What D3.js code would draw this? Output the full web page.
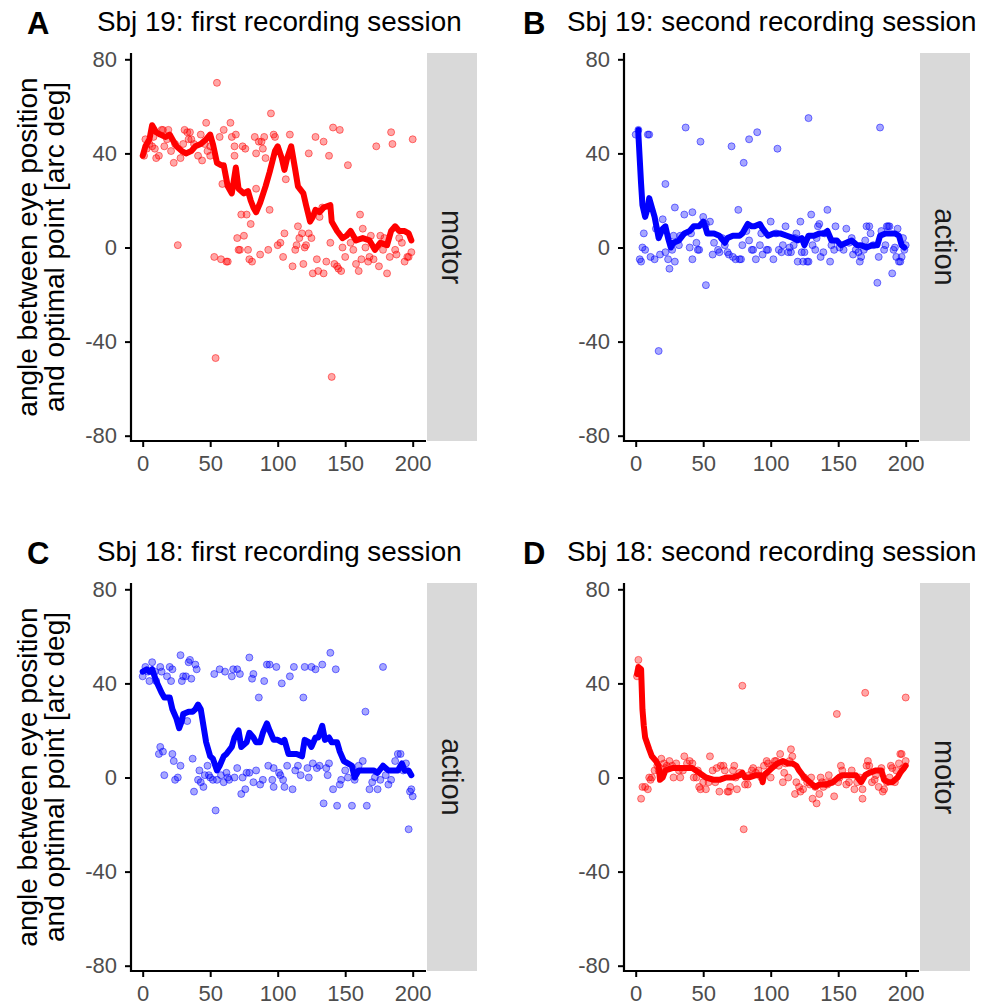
<!DOCTYPE html>
<html>
<head>
<meta charset="utf-8">
<script src="https://cdn.jsdelivr.net/npm/d3@7"></script>
<style>
  body { margin: 0; background: #fff; }
  svg { display: block; }
</style>
</head>
<body>
<div id="grafica"></div>
<script>
// datos
letters = ['A', 'B', 'C', 'D']
titles = ['Sbj 19: first recording session', 'Sbj 19: second recording session',
          'Sbj 18: first recording session', 'Sbj 18: second recording session']
strips = ['motor', 'action', 'action', 'motor']
colors = ['#ff0000', '#0000ff', '#0000ff', '#ff0000']
yTicks = [-80, -40, 0, 40, 80]
xTicks = [0, 50, 100, 150, 200]
yTitle = ['angle between eye position', 'and optimal point [arc deg]']

pointsA = [[1,39],[2,46],[3,42],[5,44],[7,43],[8,47],[9,42],[10,38],[12,39],[14,50],[15,50],[16,43],[18,46],[19,50],[21,41],[23,36],[24,44],[26,1],[28,38],[30,44],[31,50],[33,49],[34,46],[35,49],[36,46],[38,44],[41,39],[43,48],[44,37],[46,44],[47,53],[48,41],[50,43],[50,39],[53,-4],[54,-47],[55,70],[57,47],[58,-5],[59,27],[60,50],[62,-6],[63,-6],[65,53],[66,47],[68,43],[68,39],[69,48],[70,4],[71,-1],[72,-1],[73,14],[74,43],[75,5],[76,42],[77,14],[78,-1],[79,-5],[80,10],[81,-6],[83,47],[84,25],[84,40],[86,45],[87,-3],[88,45],[89,42],[90,47],[91,38],[93,-1],[94,16],[95,57],[97,48],[98,47],[100,1],[102,2],[104,-4],[105,6],[106,29],[109,48],[111,-8],[113,-1],[114,1],[115,9],[116,4],[118,6],[119,-7],[120,0],[121,1],[123,6],[123,40],[125,4],[126,-11],[128,47],[129,-5],[130,-10],[131,13],[133,17],[134,45],[134,-11],[136,-6],[138,39],[139,2],[140,-55],[141,51],[142,-7],[144,-8],[145,-9],[146,50],[147,-10],[148,0],[150,-4],[152,35],[154,2],[156,-1],[158,-7],[160,-10],[161,14],[162,-5],[163,8],[165,0],[167,-6],[168,-4],[169,5],[171,-5],[173,43],[175,-8],[176,5],[178,-1],[179,4],[181,-11],[183,-4],[184,49],[185,44],[187,-1],[188,-3],[190,4],[192,2],[194,-6],[196,-4],[197,-4],[199,-2],[200,46]]
lineA = [[0,39],[2,43],[5,46],[7,52],[10,49],[13,48],[17,47],[20,48],[23,45],[25,43],[29,41],[32,40],[36,41],[39,43],[43,44],[47,46],[50,48],[52,44],[55,36],[58,35],[60,35],[63,26],[66,23],[69,34],[71,25],[75,23],[78,24],[80,20],[82,17],[84,15],[87,19],[91,26],[94,32],[98,41],[100,43],[103,38],[105,33],[107,38],[110,43],[113,33],[115,26],[119,23],[121,18],[124,11],[126,13],[128,16],[131,15],[134,17],[139,18],[140,11],[144,7],[148,4],[151,5],[154,7],[158,3],[163,4],[168,3],[172,-1],[176,2],[181,1],[184,7],[187,9],[190,7],[194,7],[197,6],[199,3]]

pointsB = [[0,48],[2,50],[3,-5],[4,-6],[5,0],[6,6],[7,-1],[9,48],[10,48],[11,-4],[14,-5],[15,8],[17,-44],[18,-3],[20,12],[22,27],[22,-2],[24,-5],[25,-9],[27,-1],[28,5],[29,-6],[29,17],[32,1],[33,5],[36,14],[37,51],[40,0],[41,6],[42,15],[42,-5],[45,2],[46,-1],[47,-1],[48,45],[50,13],[52,-16],[52,10],[55,11],[57,-3],[58,2],[61,-1],[62,-2],[64,4],[66,1],[68,-2],[69,-3],[71,43],[72,-4],[74,-5],[76,16],[77,-5],[78,-5],[79,1],[80,36],[82,7],[84,46],[84,3],[86,-1],[87,-1],[89,-5],[90,49],[92,1],[93,6],[94,-3],[97,-1],[98,-1],[100,11],[102,-5],[104,6],[105,42],[106,-1],[108,-2],[109,1],[111,9],[113,-2],[114,0],[115,-2],[117,1],[118,4],[119,6],[120,-6],[122,11],[123,-2],[124,-6],[125,-2],[127,-6],[128,55],[128,-6],[130,14],[131,1],[133,-1],[134,4],[135,9],[136,10],[137,-4],[139,-2],[140,6],[142,16],[144,-6],[145,1],[147,-1],[148,9],[151,0],[154,-1],[156,8],[158,2],[160,4],[161,-3],[163,-1],[165,-2],[166,-6],[167,-4],[169,-1],[170,3],[171,9],[173,9],[174,6],[176,1],[179,-15],[180,-4],[181,51],[182,7],[184,-1],[185,1],[186,9],[187,9],[188,9],[190,-11],[191,-1],[192,0],[193,-4],[194,8],[195,-6],[196,-6],[197,-4],[198,4],[199,-1],[200,1]]
lineB = [[2,50],[2,48],[4,27],[5,18],[7,13],[9,17],[10,21],[11,19],[12,17],[14,13],[16,7],[17,4],[20,8],[22,9],[24,4],[26,0],[28,2],[32,3],[36,6],[40,7],[43,9],[47,9],[50,11],[52,8],[53,6],[58,6],[62,5],[66,2],[68,4],[72,5],[77,5],[79,6],[83,10],[86,9],[88,9],[92,10],[94,8],[98,5],[102,6],[107,6],[112,5],[117,4],[120,3],[123,4],[125,1],[128,5],[132,5],[136,6],[140,6],[142,7],[145,3],[149,3],[152,1],[156,2],[160,3],[164,1],[167,1],[171,0],[175,1],[179,1],[181,5],[185,6],[188,6],[192,6],[195,5],[197,1],[199,0]]

pointsC = [[0,43],[2,47],[4,45],[5,41],[7,49],[9,45],[10,41],[12,10],[13,47],[13,13],[14,45],[15,11],[16,1],[18,43],[20,47],[21,41],[22,46],[22,10],[23,7],[24,-1],[26,0],[28,5],[28,52],[29,41],[30,43],[32,43],[33,24],[34,49],[35,50],[36,42],[37,8],[38,-6],[39,48],[40,46],[41,-1],[42,3],[43,-2],[45,-4],[46,1],[48,5],[49,1],[50,0],[52,-1],[53,44],[54,-14],[55,-1],[57,46],[58,1],[60,-2],[61,45],[62,2],[63,0],[64,-1],[66,43],[67,46],[68,0],[70,46],[70,4],[72,44],[73,-7],[74,0],[76,-5],[77,2],[79,2],[79,51],[81,42],[82,44],[82,-2],[84,3],[86,34],[87,-3],[89,-1],[90,41],[92,48],[93,5],[94,48],[96,-1],[97,4],[97,-4],[99,47],[101,2],[102,1],[103,40],[104,-1],[105,-4],[107,5],[109,43],[111,-5],[112,47],[113,3],[115,5],[117,1],[119,34],[120,47],[122,4],[123,0],[125,47],[126,6],[128,46],[129,4],[131,5],[133,48],[134,-11],[136,4],[137,1],[138,6],[139,53],[141,-5],[143,46],[144,-12],[146,-3],[147,-1],[150,3],[152,0],[155,-12],[157,-1],[160,5],[163,7],[165,28],[166,-12],[168,-5],[170,-2],[172,0],[174,-5],[176,-1],[178,47],[180,1],[182,-3],[184,-1],[187,7],[189,10],[191,10],[193,3],[195,6],[197,-22],[198,-6],[199,-5],[200,-8]]
lineC = [[0,45],[3,46],[5,45],[7,46],[10,41],[14,36],[16,34],[20,34],[22,29],[25,25],[27,21],[29,24],[30,27],[34,28],[37,28],[39,29],[41,31],[43,29],[45,22],[47,15],[50,9],[52,8],[55,3],[57,5],[60,9],[62,10],[66,13],[68,17],[71,20],[73,13],[77,15],[79,19],[82,17],[84,15],[87,15],[89,19],[92,23],[94,20],[97,16],[100,16],[103,15],[105,16],[108,10],[111,10],[114,10],[118,9],[120,16],[123,15],[125,13],[128,17],[130,17],[133,22],[135,16],[138,17],[140,15],[144,15],[146,11],[149,7],[152,6],[155,5],[157,0],[160,3],[163,3],[167,3],[171,3],[174,2],[178,5],[182,3],[186,3],[189,3],[192,6],[194,3],[197,3],[199,1]]

pointsD = [[1,43],[2,50],[4,-9],[5,-4],[7,-4],[9,-5],[10,0],[11,-1],[12,0],[14,3],[16,5],[17,3],[19,8],[21,6],[22,4],[23,5],[25,7],[27,5],[28,0],[30,6],[32,3],[33,0],[35,3],[36,9],[38,6],[40,7],[42,6],[43,0],[45,0],[46,3],[47,-4],[48,-5],[50,-2],[52,-5],[54,-2],[55,9],[57,3],[59,-2],[60,4],[62,-6],[63,5],[65,5],[66,3],[68,-6],[69,-6],[70,-4],[72,3],[73,5],[74,0],[75,-5],[77,2],[79,39],[80,-22],[81,-3],[83,-3],[84,1],[86,3],[87,4],[89,2],[91,3],[93,0],[94,0],[95,5],[97,7],[98,6],[100,0],[101,5],[103,7],[104,7],[106,5],[107,10],[109,-2],[110,2],[111,6],[113,0],[114,7],[115,12],[116,9],[118,-7],[119,-2],[121,-4],[122,-6],[124,-5],[125,0],[127,-2],[129,-3],[130,0],[131,-9],[133,-4],[134,-11],[136,-7],[137,0],[138,-2],[139,-4],[141,-2],[142,-3],[143,1],[145,-2],[147,-8],[149,27],[150,-2],[151,0],[152,5],[153,3],[156,-3],[158,-2],[160,3],[162,-5],[164,-2],[166,0],[168,-9],[168,-5],[170,36],[171,5],[172,7],[173,5],[175,-2],[177,-1],[178,1],[180,-4],[182,4],[183,-6],[184,-5],[186,-2],[188,0],[189,5],[190,4],[192,-2],[193,3],[195,6],[196,10],[197,10],[198,4],[200,34],[200,7]]
lineD = [[1,44],[2,47],[4,46],[5,29],[6,22],[7,17],[10,12],[12,9],[15,7],[17,5],[18,-1],[20,0],[22,3],[27,4],[35,4],[42,4],[47,2],[52,0],[58,-1],[62,-1],[67,0],[72,0],[77,1],[79,2],[81,0],[84,0],[89,1],[93,1],[94,-2],[95,1],[99,3],[101,4],[105,6],[109,7],[113,6],[116,6],[119,5],[121,3],[125,0],[129,-2],[133,-4],[136,-3],[141,-3],[146,-2],[150,0],[153,1],[158,1],[163,1],[167,-2],[170,1],[173,2],[178,3],[182,3],[184,-1],[187,-2],[190,-2],[194,0],[196,2],[200,5]]

allPoints = [pointsA, pointsB, pointsC, pointsD]
allLines = [lineA, lineB, lineC, lineD]

// posiciones de los paneles
ancho_total = 993
alto_total = 1005
panelX = [131, 624, 131, 624]
panelY = [53, 53, 583, 583]
panelW = 295
panelH = 388
stripW = 50
fuente = 'Liberation Sans, Arial, sans-serif'

svg = d3
        .select('#grafica')
        .append('svg')
        .attr('width', ancho_total)
        .attr('height', alto_total)

function panel(i) {
  const x0 = panelX[i]
  const y0 = panelY[i]

  const x = d3
        .scaleLinear()
        .domain([0, 200])
        .range([x0 + 11.7, x0 + 281.7])
  const y = d3
        .scaleLinear()
        .domain([-80, 80])
        .range([y0 + 382.7, y0 + 6.3])

  const g = svg.append('g')

  // strip gris
  g.append('rect')
    .attr('x', x0 + panelW + 1)
    .attr('y', y0)
    .attr('width', stripW)
    .attr('height', panelH)
    .attr('fill', '#d9d9d9')
  g.append('text')
    .attr('transform', `translate(${x0 + panelW + 1 + stripW / 2}, ${y0 + panelH / 2}) rotate(90)`)
    .attr('text-anchor', 'middle')
    .attr('dominant-baseline', 'central')
    .attr('font-size', '29px')
    .attr('font-family', fuente)
    .attr('fill', '#1a1a1a')
    .text(strips[i])

  // ejes (guion normal en los negativos, como el original)
  const yAxisCall = d3.axisLeft(y).tickValues(yTicks).tickFormat((d) => String(d))
                      .tickSize(6).tickPadding(8).tickSizeOuter(0)
  const yGroup = g.append('g').attr('transform', `translate(${x0}, 0)`).call(yAxisCall)
  const xAxisCall = d3.axisBottom(x).tickValues(xTicks).tickFormat((d) => String(d))
                      .tickSize(6).tickPadding(8).tickSizeOuter(0)
  const xGroup = g.append('g').attr('transform', `translate(0, ${y0 + panelH})`).call(xAxisCall)

  ;[yGroup, xGroup].forEach((ax) => {
    ax.select('.domain').remove()
    ax.selectAll('line').attr('stroke', '#000').attr('stroke-width', 2)
    ax.selectAll('text')
      .attr('font-size', '22px')
      .attr('font-family', fuente)
      .attr('fill', '#4d4d4d')
  })

  g.append('path')
    .attr('d', `M${x0},${y0} V${y0 + panelH} H${x0 + panelW}`)
    .attr('fill', 'none')
    .attr('stroke', '#000')
    .attr('stroke-width', 2.2)

  // puntos
  g.append('g')
    .selectAll('circle')
    .data(allPoints[i])
    .enter()
    .append('circle')
    .attr('cx', (d) => x(d[0]))
    .attr('cy', (d) => y(d[1]))
    .attr('r', 3.5)
    .attr('fill', colors[i])
    .attr('fill-opacity', 0.35)
    .attr('stroke', colors[i])
    .attr('stroke-opacity', 0.5)
    .attr('stroke-width', 1)

  // media movil
  const linea = d3.line().x((d) => x(d[0])).y((d) => y(d[1]))
  g.append('path')
    .attr('d', linea(allLines[i]))
    .attr('fill', 'none')
    .attr('stroke', colors[i])
    .attr('stroke-width', 6)
    .attr('stroke-linejoin', 'round')
    .attr('stroke-linecap', 'round')

  // titulo y letra
  svg.append('text')
    .attr('x', i % 2 == 0 ? 97 : 567)
    .attr('y', y0 - 22)
    .attr('font-size', '27.8px')
    .attr('font-family', fuente)
    .attr('fill', '#000')
    .text(titles[i])
  svg.append('text')
    .attr('x', i % 2 == 0 ? 27 : 523)
    .attr('y', y0 - 19)
    .attr('font-size', '31px')
    .attr('font-weight', 'bold')
    .attr('font-family', fuente)
    .attr('fill', '#000')
    .text(letters[i])

  // titulo del eje y, solo columna izquierda
  if (i % 2 == 0) {
    yTitle.forEach((t, k) => {
      svg.append('text')
        .attr('transform', `translate(${37 + k * 27}, ${y0 + panelH / 2}) rotate(-90)`)
        .attr('text-anchor', 'middle')
        .attr('font-size', '28px')
        .attr('font-family', fuente)
        .attr('fill', '#000')
        .text(t)
    })
  }
}

for (let i = 0; i < 4; i++) panel(i)
</script>
</body>
</html>
